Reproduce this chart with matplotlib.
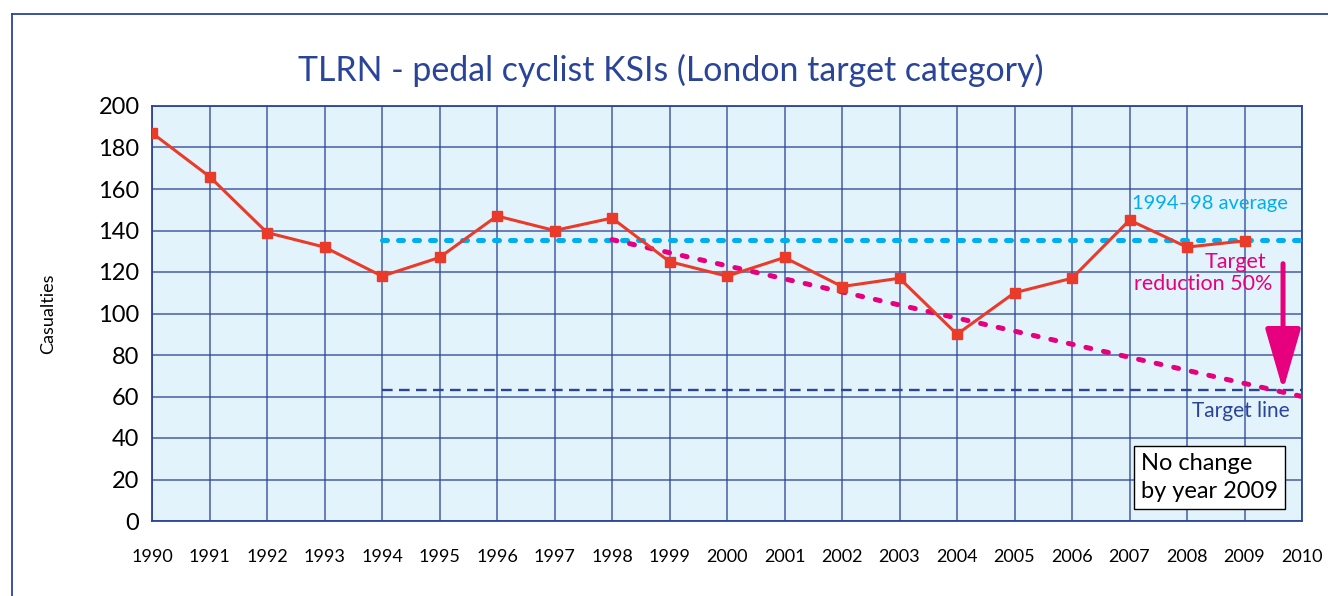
import matplotlib
matplotlib.use("Agg")
import matplotlib.pyplot as plt
from matplotlib.lines import Line2D
from matplotlib.patches import FancyArrowPatch

plt.rcParams['font.family'] = ['Lato', 'DejaVu Sans']

years = list(range(1990, 2010))
casualties = [187, 166, 139, 132, 118, 127, 147, 140, 146, 125,
              118, 127, 113, 117, 90, 110, 117, 145, 132, 135]
avg_years = [1994, 2010]
avg_value = 135.6
target_years = [1994, 2010]
target_value = 63
reduction_years = [1998, 2010]
reduction_values = [135.6, 60]
arrow_year = 2009.67
arrow_from, arrow_to = 124, 63

xticks = list(range(1990, 2011))
yticks = list(range(0, 201, 20))

NAVY = '#2a449a'
RED = '#ea3a2a'
CYAN = '#00aeef'
PINK = '#e6007e'
BG = '#e3f3fb'

W, H = 1328, 596
fig = plt.figure(figsize=(W / 100, H / 100), dpi=100)
ax = fig.add_axes([152 / W, 1 - 521 / H, (1302 - 152) / W, (521 - 106) / H])
ax.set_facecolor(BG)

ax.set_xlim(1990, 2010)
ax.set_ylim(0, 200)
ax.set_xticks(xticks)
ax.set_yticks(yticks)
ax.tick_params(axis='both', length=0)
ax.tick_params(axis='x', pad=20, labelsize=13)
ax.tick_params(axis='y', pad=9, labelsize=17)
ax.grid(True, color=NAVY, lw=1.1, alpha=0.85)
ax.set_axisbelow(True)
for s in ax.spines.values():
    s.set_color(NAVY)
    s.set_linewidth(1.3)

# average line
ax.plot(avg_years, [avg_value, avg_value], color=CYAN, lw=3.6,
        linestyle=(0, (1.0, 2.2)), solid_capstyle='round', dash_capstyle='round', zorder=3)
# target line
ax.plot(target_years, [target_value, target_value], color=NAVY, lw=1.7,
        linestyle=(0, (4.5, 2.7)), zorder=3)
# reduction line
ax.plot(reduction_years, reduction_values, color=PINK, lw=3.6,
        linestyle=(0, (1.0, 2.6)), dash_capstyle='round', zorder=3)

# data series
ax.plot(years, casualties, color=RED, lw=2.2, marker='s', markersize=6.5,
        markerfacecolor=RED, markeredgecolor=RED, zorder=4)

# arrow
arr = FancyArrowPatch((arrow_year, arrow_from), (arrow_year, arrow_to),
                      arrowstyle='-|>,head_width=11,head_length=38',
                      mutation_scale=1, lw=3.6, color=PINK,
                      shrinkA=0, shrinkB=0, zorder=5)
ax.add_patch(arr)

# annotations
ax.text(2009.75, 153, '1994–98 average', color=CYAN, fontsize=14.5,
        ha='right', va='center', zorder=6)
ax.text(2009.37, 124.8, 'Target', color=PINK, fontsize=15.5,
        ha='right', va='center', zorder=6)
ax.text(2009.48, 114.2, 'reduction 50%', color=PINK, fontsize=15.5,
        ha='right', va='center', zorder=6)
ax.text(2009.79, 53, 'Target line', color=NAVY, fontsize=15,
        ha='right', va='center', zorder=6)
ax.text(2007.2, 21.0, 'No change\nby year 2009', color='black', fontsize=17,
        ha='left', va='center', linespacing=1.4, zorder=6,
        bbox=dict(boxstyle='square,pad=0.3', facecolor='white',
                  edgecolor='black', lw=1.0))

ax.set_ylabel('Casualties', fontsize=13, va='center')
ax.yaxis.set_label_coords(-(152 - 48) / (1302 - 152), 0.5)

fig.text(671 / W, 1 - 70 / H, 'TLRN - pedal cyclist KSIs (London target category)',
         color=NAVY, fontsize=24.4, ha='center', va='center')

# outer frame
fig.add_artist(Line2D([12 / W, 1], [1 - 14 / H, 1 - 14 / H], color=NAVY, lw=1.3))
fig.add_artist(Line2D([12 / W, 12 / W], [0, 1 - 14 / H], color=NAVY, lw=1.3))

fig.savefig('out.png', dpi=100, facecolor='white')
